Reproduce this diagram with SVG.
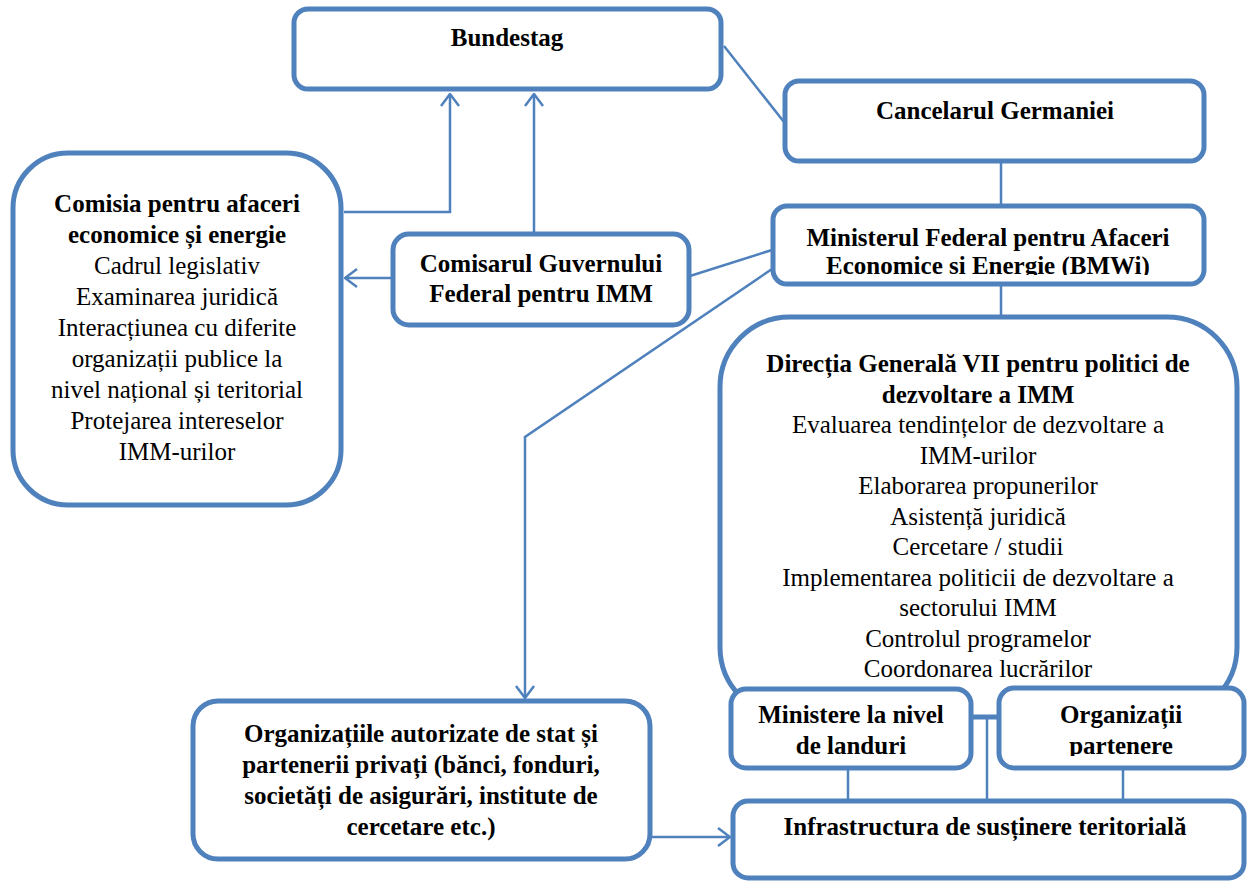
<svg xmlns="http://www.w3.org/2000/svg" width="1247" height="881" viewBox="0 0 1247 881">
<style>
.box{fill:#fff;stroke:#4f81bd;stroke-width:5}
.ln{fill:none;stroke:#4f81bd;stroke-width:2.5}
.t{font-family:"Liberation Serif","Times New Roman",serif;font-size:25px;fill:#000;text-anchor:middle}
.b{font-weight:bold}
</style>
<defs>
<marker id="arr" viewBox="0 0 14 20" refX="13" refY="10" markerWidth="14" markerHeight="20" orient="auto" markerUnits="userSpaceOnUse">
<path d="M1,1 L13,10 L1,19" fill="none" stroke="#4f81bd" stroke-width="2.5"/>
</marker>
<clipPath id="clipMin"><rect x="760" y="200" width="460" height="75"/></clipPath>
<clipPath id="clipOrg"><rect x="990" y="680" width="257" height="76"/></clipPath>
</defs>
<rect width="1247" height="881" fill="#fff"/>
<g id="connectors">
<polyline class="ln" points="344,212 450,212 450,94" marker-end="url(#arr)"/>
<line class="ln" x1="534" y1="233" x2="534" y2="94" marker-end="url(#arr)"/>
<line class="ln" x1="392" y1="278" x2="345" y2="278" marker-end="url(#arr)"/>
<line class="ln" x1="724" y1="46" x2="784" y2="122"/>
<line class="ln" x1="1001" y1="163" x2="1001" y2="205"/>
<line class="ln" x1="1001" y1="285" x2="1001" y2="317"/>
<line class="ln" x1="690" y1="276" x2="772" y2="250"/>
<polyline class="ln" points="772,269 525,437 525,698" marker-end="url(#arr)"/>
<line class="ln" x1="651" y1="837" x2="730" y2="837" marker-end="url(#arr)"/>
<line class="ln" x1="848" y1="768" x2="848" y2="800"/>
<line class="ln" x1="987" y1="717" x2="987" y2="800"/>
<line class="ln" x1="1123" y1="768" x2="1123" y2="800"/>
</g>
<g id="bundestag">
<rect class="box" x="294" y="9" width="427" height="80" rx="14"/>
<text class="t b" x="507" y="46">Bundestag</text>
</g>
<g id="cancelarul">
<rect class="box" x="785" y="81" width="419" height="80" rx="14"/>
<text class="t b" x="995" y="119">Cancelarul Germaniei</text>
</g>
<g id="ministerul">
<rect class="box" x="773" y="206" width="431" height="78" rx="14"/>
<g clip-path="url(#clipMin)">
<text class="t b" x="988" y="246">Ministerul Federal pentru Afaceri</text>
<text class="t b" x="988" y="274">Economice si Energie (BMWi)</text>
</g>
</g>
<g id="comisia">
<rect class="box" x="13" y="153" width="328" height="352" rx="55"/>
<text class="t b" x="177" y="212">Comisia pentru afaceri</text>
<text class="t b" x="177" y="243">economice și energie</text>
<text class="t" x="177" y="274">Cadrul legislativ</text>
<text class="t" x="177" y="305">Examinarea juridică</text>
<text class="t" x="177" y="336">Interacțiunea cu diferite</text>
<text class="t" x="177" y="367">organizații publice la</text>
<text class="t" x="177" y="398">nivel național și teritorial</text>
<text class="t" x="177" y="429">Protejarea intereselor</text>
<text class="t" x="177" y="460">IMM-urilor</text>
</g>
<g id="comisarul">
<rect class="box" x="393" y="234" width="296" height="91" rx="16"/>
<text class="t b" x="541" y="272">Comisarul Guvernului</text>
<text class="t b" x="541" y="302">Federal pentru IMM</text>
</g>
<g id="directia">
<rect class="box" x="720" y="317" width="517" height="400" rx="70"/>
<text class="t b" x="978" y="372">Direcția Generală VII pentru politici de</text>
<text class="t b" x="978" y="402.5">dezvoltare a IMM</text>
<text class="t" x="978" y="433">Evaluarea tendințelor de dezvoltare a</text>
<text class="t" x="978" y="463.5">IMM-urilor</text>
<text class="t" x="978" y="494">Elaborarea propunerilor</text>
<text class="t" x="978" y="524.5">Asistență juridică</text>
<text class="t" x="978" y="555">Cercetare / studii</text>
<text class="t" x="978" y="585.5">Implementarea politicii de dezvoltare a</text>
<text class="t" x="978" y="616">sectorului IMM</text>
<text class="t" x="978" y="646.5">Controlul programelor</text>
<text class="t" x="978" y="677">Coordonarea lucrărilor</text>
</g>
<g id="organizatiile">
<rect class="box" x="193" y="701" width="457" height="158" rx="25"/>
<text class="t b" x="421" y="742">Organizațiile autorizate de stat și</text>
<text class="t b" x="421" y="773">partenerii privați (bănci, fonduri,</text>
<text class="t b" x="421" y="804">societăți de asigurări, institute de</text>
<text class="t b" x="421" y="835">cercetare etc.)</text>
</g>
<g id="ministere">
<rect class="box" x="731" y="689" width="240" height="79" rx="15"/>
<text class="t b" x="851" y="723">Ministere la nivel</text>
<text class="t b" x="851" y="754">de landuri</text>
</g>
<g id="organizatii">
<rect class="box" x="999" y="688" width="245" height="80" rx="15"/>
<g clip-path="url(#clipOrg)">
<text class="t b" x="1121" y="723">Organizații</text>
<text class="t b" x="1121" y="754">partenere</text>
</g>
</g>
<g id="infrastructura">
<rect class="box" x="733" y="801" width="511" height="77" rx="15"/>
<text class="t b" x="985" y="835">Infrastructura de susținere teritorială</text>
</g>
</svg>
